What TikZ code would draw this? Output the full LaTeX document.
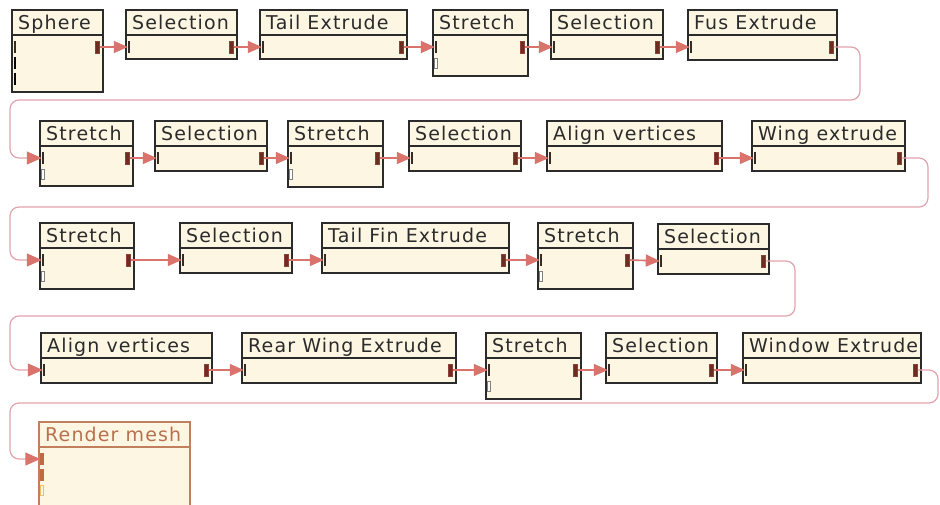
\documentclass[tikz,border=0pt]{standalone}
\usepackage{fontspec}
\newfontfamily\ttlfont{DejaVu Sans}[LetterSpace=6]
\usetikzlibrary{arrows.meta}
\definecolor{cream}{HTML}{FCF6E3}
\definecolor{edge}{HTML}{2B2B2B}
\definecolor{salmon}{HTML}{D9736B}
\definecolor{pinkline}{HTML}{E2A3AC}
\definecolor{portred}{HTML}{6E2C22}
\definecolor{portdark}{HTML}{3A2A25}
\definecolor{rmedge}{HTML}{C0805E}
\definecolor{rmtext}{HTML}{B8714E}
\definecolor{rmport}{HTML}{C06A45}
\definecolor{rmhollow}{HTML}{E8C070}
\tikzset{
  blockbox/.style={draw=edge, fill=cream, line width=1.6pt, rectangle, inner sep=0pt, outer sep=0pt},
  blockline/.style={draw=edge, line width=1.4pt},
  titletext/.style={font=\ttlfont\fontsize{19}{19}\selectfont, text=edge, inner sep=0pt, anchor=base west},
  inport/.style={fill=portdark, rectangle, minimum width=2.5pt, minimum height=12pt, inner sep=0pt, outer sep=0pt},
  outport/.style={fill=portred, draw=portred!70!salmon, line width=0.6pt, rectangle, minimum width=4.5pt, minimum height=12pt, inner sep=0pt, outer sep=0pt},
  hollowport/.style={draw=gray, fill=white, line width=0.7pt, rectangle, minimum width=3pt, minimum height=10pt, inner sep=0pt},
  conn/.style={draw=salmon, line width=1.6pt, -{Triangle[length=14pt,width=12pt]}},
  longconn/.style={draw=pinkline, line width=1.2pt, rounded corners=9pt, -{Triangle[length=15pt,width=13pt,color=salmon,fill=salmon]}},
}
\newcommand\blk[6]{%
  \node[blockbox, minimum width=#4pt, minimum height=#5pt, anchor=north west] (#1) at (#2,#3) {};
  \draw[blockline] ([yshift=-25pt]#1.north west) -- ([yshift=-25pt]#1.north east);
  \node[titletext] (#1t) at ([xshift=6pt,yshift=-19pt]#1.north west) {#6};
  \node[inport] (#1i) at ([xshift=3pt,yshift=-37pt]#1.north west) {};
  \node[outport] (#1o) at ([xshift=-5.5pt,yshift=-37pt]#1.north east) {};
}
\newcommand\hport[1]{\node[hollowport] (#1h) at ([xshift=3pt,yshift=-53pt]#1.north west) {};}
\begin{document}
\begin{tikzpicture}[x=1pt,y=-1pt]
\useasboundingbox (0,0) rectangle (940,504);
\fill[white] (0,0) rectangle (940,504);
% row 1
\blk{b1}{12}{10}{91}{82}{Sphere}
\node[inport, fill=black] (b1p2) at ([xshift=3pt,yshift=-53pt]b1.north west) {};
\node[inport, fill=black] (b1p3) at ([xshift=3pt,yshift=-69pt]b1.north west) {};
\blk{b2}{126}{10}{111}{49}{Selection}
\blk{b3}{260}{10}{147}{49}{Tail Extrude}
\blk{b4}{433}{10}{95}{66}{Stretch}\hport{b4}
\blk{b5}{551}{10}{112}{49}{Selection}
\blk{b6}{688}{10}{149}{50}{Fus Extrude}
% row 2
\blk{b7}{40}{121}{93}{65}{Stretch}\hport{b7}
\blk{b8}{155}{121}{112}{50}{Selection}
\blk{b9}{288}{121}{95}{66}{Stretch}\hport{b9}
\blk{b10}{409}{121}{112}{50}{Selection}
\blk{b11}{547}{121}{175}{50}{Align vertices}
\blk{b12}{752}{121}{153}{50}{Wing extrude}
% row 3
\blk{b13}{40}{223}{94}{66}{Stretch}\hport{b13}
\blk{b14}{180}{223}{112}{50}{Selection}
\blk{b15}{322}{223}{187}{50}{Tail Fin Extrude}
\blk{b16}{538}{223}{95}{66}{Stretch}\hport{b16}
\blk{b17}{658}{224}{111}{50}{Selection}
% row 4
\blk{b18}{41}{333}{171}{50}{Align vertices}
\blk{b19}{242}{333}{214}{50}{Rear Wing Extrude}
\blk{b20}{486}{333}{95}{66}{Stretch}\hport{b20}
\blk{b21}{606}{333}{111}{50}{Selection}
\blk{b22}{743}{333}{178}{50}{Window Extrude}
% row 5 (render mesh)
\node[blockbox, draw=rmedge, minimum width=151pt, minimum height=95pt, anchor=north west] (b23) at (39,422) {};
\draw[blockline, draw=rmedge] ([yshift=-25pt]b23.north west) -- ([yshift=-25pt]b23.north east);
\node[titletext, text=rmtext] (b23t) at ([xshift=6pt,yshift=-19pt]b23.north west) {Render mesh};
\node[inport, fill=rmport, minimum width=3.5pt] (b23i) at ([xshift=3pt,yshift=-37pt]b23.north west) {};
\node[inport, fill=rmport, minimum width=3.5pt] (b23p2) at ([xshift=3pt,yshift=-53pt]b23.north west) {};
\node[hollowport, draw=rmhollow, fill=cream] (b23h) at ([xshift=3pt,yshift=-68pt]b23.north west) {};
% short connectors
\draw[conn] (b1o.east) -- (b2i.west);
\draw[conn] (b2o.east) -- (b3i.west);
\draw[conn] (b3o.east) -- (b4i.west);
\draw[conn] (b4o.east) -- (b5i.west);
\draw[conn] (b5o.east) -- (b6i.west);
\draw[conn] (b7o.east) -- (b8i.west);
\draw[conn] (b8o.east) -- (b9i.west);
\draw[conn] (b9o.east) -- (b10i.west);
\draw[conn] (b10o.east) -- (b11i.west);
\draw[conn] (b11o.east) -- (b12i.west);
\draw[conn] (b13o.east) -- (b14i.west);
\draw[conn] (b14o.east) -- (b15i.west);
\draw[conn] (b15o.east) -- (b16i.west);
\draw[conn] (b16o.east) -- (b17i.west);
\draw[conn] (b18o.east) -- (b19i.west);
\draw[conn] (b19o.east) -- (b20i.west);
\draw[conn] (b20o.east) -- (b21i.west);
\draw[conn] (b21o.east) -- (b22i.west);
% long connectors
\coordinate (k1a) at (860,100); \coordinate (k1b) at (10,100);
\coordinate (k2a) at (928,207); \coordinate (k2b) at (10,207);
\coordinate (k3a) at (795,316); \coordinate (k3b) at (10,316);
\coordinate (k4a) at (938,403); \coordinate (k4b) at (10,403);
\draw[longconn] (b6o.east) -| (k1a) -- (k1b) |- (b7i.west);
\draw[longconn] (b12o.east) -| (k2a) -- (k2b) |- (b13i.west);
\draw[longconn] (b17o.east) -| (k3a) -- (k3b) |- (b18i.west);
\draw[longconn] (b22o.east) -| (k4a) -- (k4b) |- (b23i.west);
\end{tikzpicture}
\end{document}
